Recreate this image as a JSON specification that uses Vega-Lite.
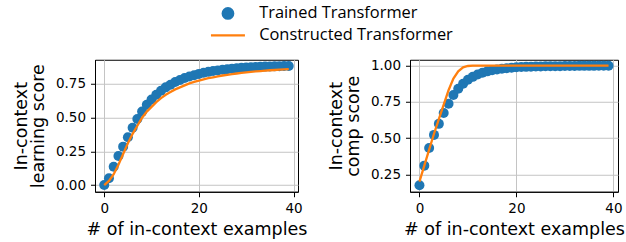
{
  "$schema": "https://vega.github.io/schema/vega-lite/v6.json",
  "padding": {"left": 11, "top": 4.75, "right": 0, "bottom": 0},
  "spacing": 18,
  "datasets": {
    "learning": [
      {"x":0,"y":0.0,"series":"Trained Transformer"},{"x":1,"y":0.05,"series":"Trained Transformer"},{"x":2,"y":0.135,"series":"Trained Transformer"},{"x":3,"y":0.215,"series":"Trained Transformer"},{"x":4,"y":0.285,"series":"Trained Transformer"},{"x":5,"y":0.355,"series":"Trained Transformer"},{"x":6,"y":0.425,"series":"Trained Transformer"},{"x":7,"y":0.49,"series":"Trained Transformer"},{"x":8,"y":0.545,"series":"Trained Transformer"},{"x":9,"y":0.595,"series":"Trained Transformer"},
      {"x":10,"y":0.635,"series":"Trained Transformer"},{"x":11,"y":0.67,"series":"Trained Transformer"},{"x":12,"y":0.7,"series":"Trained Transformer"},{"x":13,"y":0.725,"series":"Trained Transformer"},{"x":14,"y":0.745,"series":"Trained Transformer"},{"x":15,"y":0.765,"series":"Trained Transformer"},{"x":16,"y":0.78,"series":"Trained Transformer"},{"x":17,"y":0.795,"series":"Trained Transformer"},{"x":18,"y":0.805,"series":"Trained Transformer"},{"x":19,"y":0.815,"series":"Trained Transformer"},
      {"x":20,"y":0.825,"series":"Trained Transformer"},{"x":21,"y":0.833,"series":"Trained Transformer"},{"x":22,"y":0.84,"series":"Trained Transformer"},{"x":23,"y":0.846,"series":"Trained Transformer"},{"x":24,"y":0.851,"series":"Trained Transformer"},{"x":25,"y":0.856,"series":"Trained Transformer"},{"x":26,"y":0.86,"series":"Trained Transformer"},{"x":27,"y":0.864,"series":"Trained Transformer"},{"x":28,"y":0.867,"series":"Trained Transformer"},{"x":29,"y":0.87,"series":"Trained Transformer"},
      {"x":30,"y":0.872,"series":"Trained Transformer"},{"x":31,"y":0.874,"series":"Trained Transformer"},{"x":32,"y":0.876,"series":"Trained Transformer"},{"x":33,"y":0.878,"series":"Trained Transformer"},{"x":34,"y":0.879,"series":"Trained Transformer"},{"x":35,"y":0.88,"series":"Trained Transformer"},{"x":36,"y":0.881,"series":"Trained Transformer"},{"x":37,"y":0.882,"series":"Trained Transformer"},{"x":38,"y":0.883,"series":"Trained Transformer"},{"x":39,"y":0.884,"series":"Trained Transformer"},
      {"x":0,"y":0.0,"series":"Constructed Transformer"},{"x":1,"y":0.03,"series":"Constructed Transformer"},{"x":2,"y":0.08,"series":"Constructed Transformer"},{"x":3,"y":0.15,"series":"Constructed Transformer"},{"x":4,"y":0.23,"series":"Constructed Transformer"},{"x":5,"y":0.31,"series":"Constructed Transformer"},{"x":6,"y":0.38,"series":"Constructed Transformer"},{"x":7,"y":0.44,"series":"Constructed Transformer"},{"x":8,"y":0.5,"series":"Constructed Transformer"},{"x":9,"y":0.545,"series":"Constructed Transformer"},
      {"x":10,"y":0.58,"series":"Constructed Transformer"},{"x":11,"y":0.615,"series":"Constructed Transformer"},{"x":12,"y":0.645,"series":"Constructed Transformer"},{"x":13,"y":0.67,"series":"Constructed Transformer"},{"x":14,"y":0.69,"series":"Constructed Transformer"},{"x":15,"y":0.71,"series":"Constructed Transformer"},{"x":16,"y":0.725,"series":"Constructed Transformer"},{"x":17,"y":0.74,"series":"Constructed Transformer"},{"x":18,"y":0.755,"series":"Constructed Transformer"},{"x":19,"y":0.765,"series":"Constructed Transformer"},
      {"x":20,"y":0.775,"series":"Constructed Transformer"},{"x":21,"y":0.785,"series":"Constructed Transformer"},{"x":22,"y":0.793,"series":"Constructed Transformer"},{"x":23,"y":0.8,"series":"Constructed Transformer"},{"x":24,"y":0.807,"series":"Constructed Transformer"},{"x":25,"y":0.813,"series":"Constructed Transformer"},{"x":26,"y":0.818,"series":"Constructed Transformer"},{"x":27,"y":0.823,"series":"Constructed Transformer"},{"x":28,"y":0.828,"series":"Constructed Transformer"},{"x":29,"y":0.832,"series":"Constructed Transformer"},
      {"x":30,"y":0.836,"series":"Constructed Transformer"},{"x":31,"y":0.84,"series":"Constructed Transformer"},{"x":32,"y":0.843,"series":"Constructed Transformer"},{"x":33,"y":0.846,"series":"Constructed Transformer"},{"x":34,"y":0.849,"series":"Constructed Transformer"},{"x":35,"y":0.852,"series":"Constructed Transformer"},{"x":36,"y":0.854,"series":"Constructed Transformer"},{"x":37,"y":0.856,"series":"Constructed Transformer"},{"x":38,"y":0.858,"series":"Constructed Transformer"},{"x":39,"y":0.86,"series":"Constructed Transformer"}
    ],
    "comp": [
      {"x":0,"y":0.175,"series":"Trained Transformer"},{"x":1,"y":0.31,"series":"Trained Transformer"},{"x":2,"y":0.432,"series":"Trained Transformer"},{"x":3,"y":0.522,"series":"Trained Transformer"},{"x":4,"y":0.598,"series":"Trained Transformer"},{"x":5,"y":0.673,"series":"Trained Transformer"},{"x":6,"y":0.737,"series":"Trained Transformer"},{"x":7,"y":0.797,"series":"Trained Transformer"},{"x":8,"y":0.84,"series":"Trained Transformer"},{"x":9,"y":0.875,"series":"Trained Transformer"},
      {"x":10,"y":0.902,"series":"Trained Transformer"},{"x":11,"y":0.922,"series":"Trained Transformer"},{"x":12,"y":0.938,"series":"Trained Transformer"},{"x":13,"y":0.95,"series":"Trained Transformer"},{"x":14,"y":0.96,"series":"Trained Transformer"},{"x":15,"y":0.967,"series":"Trained Transformer"},{"x":16,"y":0.973,"series":"Trained Transformer"},{"x":17,"y":0.978,"series":"Trained Transformer"},{"x":18,"y":0.982,"series":"Trained Transformer"},{"x":19,"y":0.985,"series":"Trained Transformer"},
      {"x":20,"y":0.988,"series":"Trained Transformer"},{"x":21,"y":0.99,"series":"Trained Transformer"},{"x":22,"y":0.991,"series":"Trained Transformer"},{"x":23,"y":0.992,"series":"Trained Transformer"},{"x":24,"y":0.993,"series":"Trained Transformer"},{"x":25,"y":0.994,"series":"Trained Transformer"},{"x":26,"y":0.995,"series":"Trained Transformer"},{"x":27,"y":0.995,"series":"Trained Transformer"},{"x":28,"y":0.996,"series":"Trained Transformer"},{"x":29,"y":0.996,"series":"Trained Transformer"},
      {"x":30,"y":0.997,"series":"Trained Transformer"},{"x":31,"y":0.997,"series":"Trained Transformer"},{"x":32,"y":0.997,"series":"Trained Transformer"},{"x":33,"y":0.998,"series":"Trained Transformer"},{"x":34,"y":0.998,"series":"Trained Transformer"},{"x":35,"y":0.998,"series":"Trained Transformer"},{"x":36,"y":0.998,"series":"Trained Transformer"},{"x":37,"y":0.999,"series":"Trained Transformer"},{"x":38,"y":0.999,"series":"Trained Transformer"},{"x":39,"y":0.999,"series":"Trained Transformer"},
      {"x":0,"y":0.2,"series":"Constructed Transformer"},{"x":1,"y":0.31,"series":"Constructed Transformer"},{"x":2,"y":0.42,"series":"Constructed Transformer"},{"x":3,"y":0.53,"series":"Constructed Transformer"},{"x":4,"y":0.63,"series":"Constructed Transformer"},{"x":5,"y":0.73,"series":"Constructed Transformer"},{"x":6,"y":0.83,"series":"Constructed Transformer"},{"x":7,"y":0.91,"series":"Constructed Transformer"},{"x":8,"y":0.96,"series":"Constructed Transformer"},{"x":9,"y":0.988,"series":"Constructed Transformer"},
      {"x":10,"y":0.997,"series":"Constructed Transformer"},{"x":11,"y":0.999,"series":"Constructed Transformer"},{"x":12,"y":1.0,"series":"Constructed Transformer"},{"x":13,"y":1.0,"series":"Constructed Transformer"},{"x":14,"y":1.0,"series":"Constructed Transformer"},{"x":15,"y":1.0,"series":"Constructed Transformer"},{"x":16,"y":1.0,"series":"Constructed Transformer"},{"x":17,"y":1.0,"series":"Constructed Transformer"},{"x":18,"y":1.0,"series":"Constructed Transformer"},{"x":19,"y":1.0,"series":"Constructed Transformer"},
      {"x":20,"y":1.0,"series":"Constructed Transformer"},{"x":21,"y":1.0,"series":"Constructed Transformer"},{"x":22,"y":1.0,"series":"Constructed Transformer"},{"x":23,"y":1.0,"series":"Constructed Transformer"},{"x":24,"y":1.0,"series":"Constructed Transformer"},{"x":25,"y":1.0,"series":"Constructed Transformer"},{"x":26,"y":1.0,"series":"Constructed Transformer"},{"x":27,"y":1.0,"series":"Constructed Transformer"},{"x":28,"y":1.0,"series":"Constructed Transformer"},{"x":29,"y":1.0,"series":"Constructed Transformer"},
      {"x":30,"y":1.0,"series":"Constructed Transformer"},{"x":31,"y":1.0,"series":"Constructed Transformer"},{"x":32,"y":1.0,"series":"Constructed Transformer"},{"x":33,"y":1.0,"series":"Constructed Transformer"},{"x":34,"y":1.0,"series":"Constructed Transformer"},{"x":35,"y":1.0,"series":"Constructed Transformer"},{"x":36,"y":1.0,"series":"Constructed Transformer"},{"x":37,"y":1.0,"series":"Constructed Transformer"},{"x":38,"y":1.0,"series":"Constructed Transformer"},{"x":39,"y":1.0,"series":"Constructed Transformer"}
    ]
  },
  "hconcat": [
    {
      "width": 203,
      "height": 132,
      "data": {"name": "learning"},
      "encoding": {
        "x": {"field": "x", "type": "quantitative", "scale": {"domain": [-1.95, 40.95], "nice": false, "zero": false}, "axis": {"values": [0, 20, 40], "title": "# of in-context examples"}},
        "y": {"field": "y", "type": "quantitative", "scale": {"domain": [-0.05, 0.93], "nice": false, "zero": false}, "axis": {"values": [0, 0.25, 0.5, 0.75], "format": ".2f", "title": ["In-context", "learning score"]}}
      },
      "layer": [
        {
          "transform": [{"filter": "datum.series === 'Trained Transformer'"}],
          "mark": {"type": "point", "filled": true, "size": 100, "opacity": 1},
          "encoding": {"color": {"field": "series", "type": "nominal", "scale": {"domain": ["Trained Transformer", "Constructed Transformer"], "range": ["#1f77b4", "#ff7f0e"]}, "legend": {"title": null, "orient": "none", "legendX": 124.75, "legendY": -54.5, "direction": "vertical", "padding": 0, "symbolSize": 110, "labelOffset": 23, "rowPadding": 3, "labelLimit": 400, "labelFont": "Open Sans", "labelFontSize": 16.4, "labelColor": "#000", "encode": {"symbols": {"update": {"shape": {"signal": "datum.value === 'Trained Transformer' ? 'circle' : 'M-3.24,0H3.24'"}, "fill": {"signal": "datum.value === 'Trained Transformer' ? '#1f77b4' : 'transparent'"}, "stroke": {"signal": "datum.value === 'Trained Transformer' ? 'transparent' : '#ff7f0e'"}, "strokeWidth": {"value": 2.3}, "opacity": {"value": 1}}}}}}}
        },
        {
          "transform": [{"filter": "datum.series === 'Constructed Transformer'"}],
          "mark": {"type": "line", "strokeWidth": 2.3},
          "encoding": {"color": {"field": "series", "type": "nominal", "legend": {"title": null, "orient": "none", "legendX": 124.75, "legendY": -54.5, "direction": "vertical", "padding": 0, "symbolSize": 110, "labelOffset": 23, "rowPadding": 3, "labelLimit": 400, "labelFont": "Open Sans", "labelFontSize": 16.4, "labelColor": "#000", "encode": {"symbols": {"update": {"shape": {"signal": "datum.value === 'Trained Transformer' ? 'circle' : 'M-3.24,0H3.24'"}, "fill": {"signal": "datum.value === 'Trained Transformer' ? '#1f77b4' : 'transparent'"}, "stroke": {"signal": "datum.value === 'Trained Transformer' ? 'transparent' : '#ff7f0e'"}, "strokeWidth": {"value": 2.3}, "opacity": {"value": 1}}}}}}}
        }
      ]
    },
    {
      "width": 208,
      "height": 132,
      "data": {"name": "comp"},
      "encoding": {
        "x": {"field": "x", "type": "quantitative", "scale": {"domain": [-1.95, 40.95], "nice": false, "zero": false}, "axis": {"values": [0, 20, 40], "title": "# of in-context examples"}},
        "y": {"field": "y", "type": "quantitative", "scale": {"domain": [0.13, 1.04], "nice": false, "zero": false}, "axis": {"values": [0.25, 0.5, 0.75, 1.0], "format": ".2f", "title": ["In-context", "comp score"]}}
      },
      "layer": [
        {
          "transform": [{"filter": "datum.series === 'Trained Transformer'"}],
          "mark": {"type": "point", "filled": true, "size": 100, "opacity": 1},
          "encoding": {"color": {"field": "series", "type": "nominal", "legend": {"title": null, "orient": "none", "legendX": 124.75, "legendY": -54.5, "direction": "vertical", "padding": 0, "symbolSize": 110, "labelOffset": 23, "rowPadding": 3, "labelLimit": 400, "labelFont": "Open Sans", "labelFontSize": 16.4, "labelColor": "#000", "encode": {"symbols": {"update": {"shape": {"signal": "datum.value === 'Trained Transformer' ? 'circle' : 'M-3.24,0H3.24'"}, "fill": {"signal": "datum.value === 'Trained Transformer' ? '#1f77b4' : 'transparent'"}, "stroke": {"signal": "datum.value === 'Trained Transformer' ? 'transparent' : '#ff7f0e'"}, "strokeWidth": {"value": 2.3}, "opacity": {"value": 1}}}}}}}
        },
        {
          "transform": [{"filter": "datum.series === 'Constructed Transformer'"}],
          "mark": {"type": "line", "strokeWidth": 2.3},
          "encoding": {"color": {"field": "series", "type": "nominal", "legend": {"title": null, "orient": "none", "legendX": 124.75, "legendY": -54.5, "direction": "vertical", "padding": 0, "symbolSize": 110, "labelOffset": 23, "rowPadding": 3, "labelLimit": 400, "labelFont": "Open Sans", "labelFontSize": 16.4, "labelColor": "#000", "encode": {"symbols": {"update": {"shape": {"signal": "datum.value === 'Trained Transformer' ? 'circle' : 'M-3.24,0H3.24'"}, "fill": {"signal": "datum.value === 'Trained Transformer' ? '#1f77b4' : 'transparent'"}, "stroke": {"signal": "datum.value === 'Trained Transformer' ? 'transparent' : '#ff7f0e'"}, "strokeWidth": {"value": 2.3}, "opacity": {"value": 1}}}}}}}
        }
      ]
    }
  ],
  "config": {
    "font": "DejaVu Sans",
    "view": {"stroke": "#000", "strokeWidth": 1},
    "axis": {"labelFont": "DejaVu Sans", "labelFontSize": 13.5, "titleFont": "DejaVu Sans", "titleFontSize": 17.5, "titleFontWeight": "normal", "labelColor": "#000", "titleColor": "#000", "tickColor": "#000", "domainColor": "#000", "gridColor": "#c4c4c4", "gridWidth": 1, "tickSize": 4.5},
    "axisX": {"labelPadding": 5, "titlePadding": 5, "tickSize": 5},
    "axisY": {"labelPadding": 5, "titlePadding": 8, "titleLineHeight": 17}
  }
}
